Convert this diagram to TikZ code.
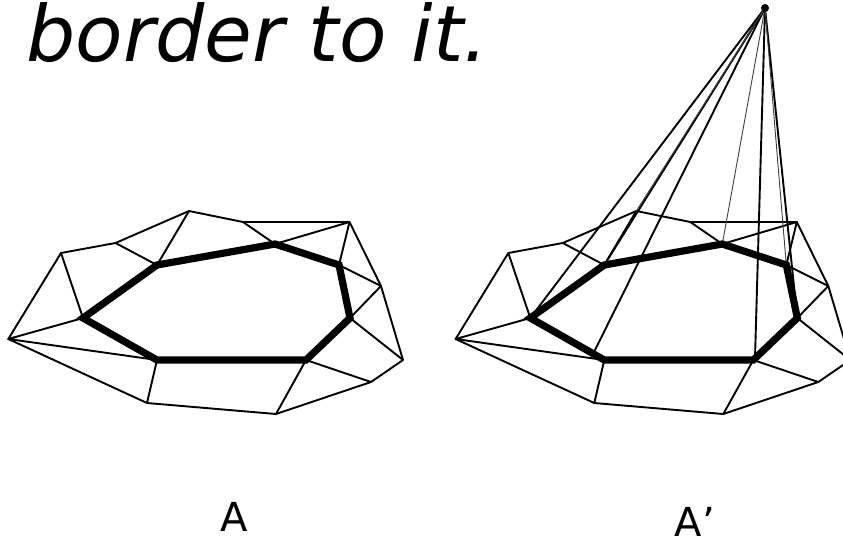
\documentclass[tikz,border=0pt]{standalone}
\usepackage{fontspec}
\setmainfont{DejaVu Sans}
\tikzset{
    meshline/.style={black, line width=1.9pt, line join=round},
    ringline/.style={black, line width=7.2pt, line join=miter},
    coneline/.style={black, line width=1.9pt},
    faintline/.style={black!75, line width=0.9pt},
    caption/.style={anchor=base, inner sep=0pt, font=\fontsize{40}{40}\selectfont}
}
\begin{document}
\begin{tikzpicture}[x=1pt, y=-1pt]
    \clip (0,0) rectangle (843,542);
    \fill[white] (0,0) rectangle (843,542);
    % Title fragment
    \node[anchor=base west, inner sep=0pt, font=\fontsize{77.6}{78}\selectfont\itshape] (title) at (26.5,61) {border to it.};
    % Both copies of the mesh
    \foreach \s/\dx in {a/0, b/447.3} {
        % Outer vertices
        \foreach \i/\x/\y in {0/8.3/339, 1/61/253, 2/115.5/243, 3/189/211, 4/243/222, 5/349.5/222, 6/381/286, 7/403/360, 8/371/382, 9/276/414, 10/147/403}
            \coordinate (\s o\i) at (\x+\dx,\y);
        % Ring vertices
        \foreach \i/\x/\y in {0/83/318, 1/157/265, 2/275/244, 3/339/265, 4/350/318, 5/306/360, 6/157/360}
            \coordinate (\s r\i) at (\x+\dx,\y);
        % Outline
        \draw[meshline] (\s o0) -- (\s o1) -- (\s o2) -- (\s o3) -- (\s o4) -- (\s o5) -- (\s o6) -- (\s o7) -- (\s o8) -- (\s o9) -- (\s o10) -- cycle;
        \draw[meshline] (\s o1) -- (\s r0) -- (\s o0) -- (\s r6) -- (\s o10);
        \draw[meshline] (\s o2) -- (\s r1) -- (\s o3);
        \draw[meshline] (\s o4) -- (\s r2) -- (\s o5) -- (\s r3) -- (\s o6) -- (\s r4) -- (\s o7);
        \draw[meshline] (\s o8) -- (\s r5) -- (\s o9);
    }
    % Cone over the second copy
    \coordinate (apex) at (765,8);
    \coordinate (foot) at (594,352);
    \coordinate (drop) at (755,358);
    \foreach \t in {br0, br1, foot, drop, br4}
        \draw[coneline] (apex) -- (\t);
    \foreach \t in {bo3, br2, br3}
        \draw[faintline] (apex) -- (\t);
    \fill[black] (apex) circle (4pt);
    % Thick rings
    \foreach \s in {a, b}
        \draw[ringline] (\s r0) -- (\s r1) -- (\s r2) -- (\s r3) -- (\s r4) -- (\s r5) -- (\s r6) -- cycle;
    % Labels
    \node[caption] (labela) at (234,531) {A};
    \node[caption] (labelb) at (695,536) {A’};
\end{tikzpicture}
\end{document}
